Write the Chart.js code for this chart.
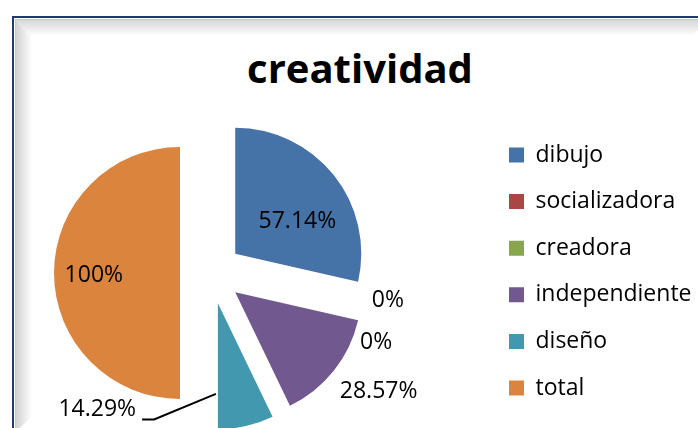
<!DOCTYPE html>
<html>
<head>
<meta charset="utf-8">
<script src="https://cdn.jsdelivr.net/npm/chart.js@4.4.1/dist/chart.umd.min.js"></script>
<style>
  html, body { margin: 0; padding: 0; background: #fff; }
  body { width: 698px; height: 428px; overflow: hidden; position: relative; }
  .frame { position: absolute; left: 12px; top: 16px; width: 700px; height: 420px;
           border: 2px solid #1f3a72; box-sizing: border-box; }
  .frame-inner { position: absolute; left: 1px; top: 1px; right: 1px; bottom: 1px;
                 border: 1px solid #c3cbdc; overflow: hidden; }
  .bevel-top { position: absolute; left: 0; top: 0; right: 0; height: 16px;
               background: linear-gradient(to bottom, #d6d6d6, #ffffff);
               clip-path: polygon(0 0, 100% 0, calc(100% - 16px) 100%, 16px 100%); }
  .bevel-left { position: absolute; left: 0; top: 0; bottom: 0; width: 16px;
                background: linear-gradient(to right, #d2d2d2, #ffffff);
                clip-path: polygon(0 0, 100% 16px, 100% calc(100% - 16px), 0 100%); }
  h1 { position: absolute; left: 0; width: 720px; top: 48px; margin: 0;
       font: bold 40px/40px "Open Sans", sans-serif; text-align: center; color: #000; }
  #chart { position: absolute; left: -80px; top: 0; }
</style>
</head>
<body>
<div class="frame"><div class="frame-inner"><div class="bevel-top"></div><div class="bevel-left"></div></div></div>
<h1>creatividad</h1>
<canvas id="chart" width="790" height="428"></canvas>
<script>
// datos
const categorias = ['dibujo', 'socializadora', 'creadora', 'independiente', 'diseño', 'total'];
const valores = [57.14, 0, 0, 28.57, 14.29, 100];
const colores = ['#4572A7', '#AA4643', '#89A54E', '#71588F', '#4198AF', '#DB843D'];

const RADIO = 126;
const SEPARACION = 31; // desplazamiento de cada porción

// posición de etiquetas: ángulo (grados desde arriba) y distancia en radios
const etiquetaAngulo = [59, 98.7, 112.7, 125.3, 219.8, 269];
const etiquetaDist = [0.80, 1.42, 1.42, 1.63, 1.41, 0.93];
const conGuia = 4; // diseño lleva línea guía

// Chart.js agranda el radio de las porciones desplazadas; se corrige aquí
const ajusteExplosion = {
  id: 'ajusteExplosion',
  afterDatasetUpdate(chart, args) {
    args.meta.data.forEach(arc => {
      const t = (arc.options.offset || 0) / 4;
      const extra = t * (1 - Math.sin(Math.min(Math.PI, arc.circumference)));
      const da = extra / (2 * Math.PI * arc.outerRadius);
      arc.outerRadius -= extra;
      arc.startAngle -= da;
      arc.endAngle += da;
    });
  }
};

const etiquetas = {
  id: 'etiquetas',
  afterDatasetsDraw(chart) {
    const ctx = chart.ctx;
    const meta = chart.getDatasetMeta(0);
    ctx.save();
    ctx.font = '23px "Open Sans"';
    ctx.fillStyle = '#000';
    ctx.textAlign = 'center';
    ctx.textBaseline = 'middle';
    meta.data.forEach((arc, i) => {
      const a = etiquetaAngulo[i] * Math.PI / 180;
      const r = RADIO * etiquetaDist[i];
      const lx = arc.x + r * Math.sin(a);
      const ly = arc.y - r * Math.cos(a);
      const texto = valores[i] + '%';
      ctx.fillText(texto, lx, ly);
      if (i === conGuia) {
        const mid = (arc.startAngle + arc.endAngle) / 2;
        const cx = arc.x + Math.cos(mid) * SEPARACION;
        const cy = arc.y + Math.sin(mid) * SEPARACION;
        const px = cx + Math.cos(arc.endAngle) * RADIO * 0.72;
        const py = cy + Math.sin(arc.endAngle) * RADIO * 0.72;
        const right = lx + ctx.measureText(texto).width / 2;
        ctx.beginPath();
        ctx.moveTo(px, py);
        ctx.lineTo(right + 18, ly + 10);
        ctx.lineTo(right + 6, ly + 10);
        ctx.strokeStyle = '#000';
        ctx.lineWidth = 2;
        ctx.stroke();
      }
    });
    ctx.restore();
  }
};

new Chart(document.getElementById('chart'), {
  type: 'pie',
  data: {
    labels: categorias,
    datasets: [{
      data: valores,
      backgroundColor: colores,
      borderWidth: 0,
      offset: SEPARACION * 4,
      hoverOffset: 0,
      clip: false
    }]
  },
  options: {
    responsive: false,
    animation: false,
    radius: RADIO,
    layout: { padding: { left: 16.6, right: 8.5, top: 119.9, bottom: 1.9 } },
    plugins: {
      legend: {
        position: 'right',
        align: 'start',
        labels: {
          boxWidth: 15,
          boxHeight: 15,
          padding: 23.6,
          color: '#000',
          font: { family: '"Open Sans"', size: 23 }
        }
      },
      tooltip: { enabled: false }
    }
  },
  plugins: [ajusteExplosion, etiquetas]
});
</script>
</body>
</html>
